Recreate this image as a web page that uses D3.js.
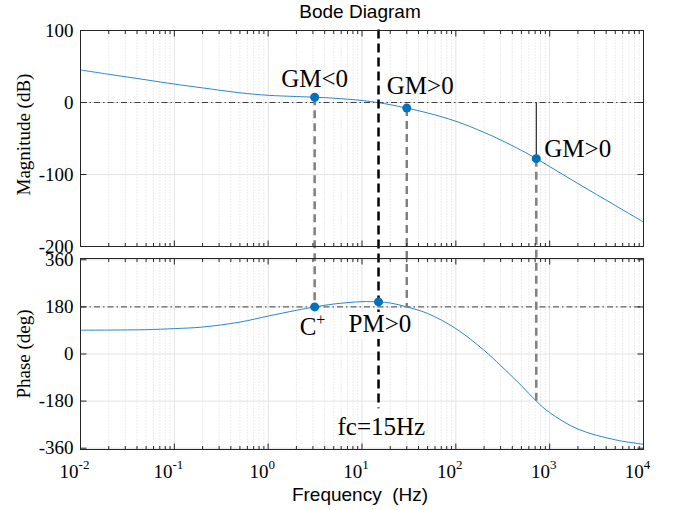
<!DOCTYPE html>
<html>
<head>
<meta charset="utf-8">
<script src="https://d3js.org/d3.v7.min.js"></script>
<style>
  body { margin: 0; background: #fff; }
  .serif { font-family: "Liberation Serif", "Times New Roman", serif; }
  .sans { font-family: "Liberation Sans", Arial, sans-serif; }
</style>
</head>
<body>
<div id="chart"></div>
<script>

// values
const freq     = [0.01, 0.02, 0.05, 0.1, 0.2, 0.5, 1, 2, 3.13, 5, 10, 15, 20, 30, 50, 100, 200, 300, 500, 720, 1000, 2000, 5000, 10000];
const magDb    = [45.2, 39.2, 31.5, 25.6, 20.3, 13.5, 10, 8.3, 7.3, 6.0, 2.8, -0.3, -3, -7.8, -14.5, -26, -41.5, -52, -66.5, -78, -89, -112.5, -143, -166];
const phaseDeg = [91, 91.5, 93, 97, 103, 122, 145, 167, 180, 191, 200, 199, 195, 180, 155, 97, 14, -44, -121, -180, -224, -287, -328, -345];

const magTicks   = [100, 0, -100, -200];
const phaseTicks = [360, 180, 0, -180, -360];
const decades    = [-2, -1, 0, 1, 2, 3, 4];

const fc = 15;
// gain margin points, dropped down to the phase curve
const gmFreq   = [3.13, 30, 720];
const gmMag    = [7.3, -7.8, -78];
const gmPhase  = [180, 180, -180];
const gmLabels = ["GM<0", "GM>0", "GM>0"];
// phase points
const phFreq  = [3.13, 15];
const phValue = [180, 199];

const W = 679, H = 510;
const left = 80.5, right = 643.5;
const magTop = 30.5, magBottom = 246.5;
const phTop = 258.5, phBottom = 449.5;

const x = d3.scaleLog().domain([1e-2, 1e4]).range([left, right]);
const yMag = d3.scaleLinear().domain([-200, 100]).range([magBottom, magTop]);
const yPh = d3.scaleLinear().domain([-365, 365]).range([phBottom, phTop]);

const svg = d3.select("#chart").append("svg")
    .attr("width", W)
    .attr("height", H);

const majorF = decades.map(e => Math.pow(10, e));
const minorF = [];
for (let e = -2; e < 4; e++) for (let k = 2; k <= 9; k++) minorF.push(k * Math.pow(10, e));

function drawGrid(y, ticks, top, bottom) {
  const g = svg.append("g");
  g.selectAll("line.minor").data(minorF).join("line")
      .attr("x1", d => x(d)).attr("x2", d => x(d))
      .attr("y1", top).attr("y2", bottom)
      .attr("stroke", "#cfcfcf").attr("stroke-width", 0.8)
      .attr("stroke-dasharray", "1,2");
  g.selectAll("line.vmajor").data(majorF.slice(1, -1)).join("line")
      .attr("x1", d => x(d)).attr("x2", d => x(d))
      .attr("y1", top).attr("y2", bottom)
      .attr("stroke", "#e3e3e3").attr("stroke-width", 1);
  g.selectAll("line.hmajor").data(ticks).join("line")
      .attr("x1", left).attr("x2", right)
      .attr("y1", d => y(d)).attr("y2", d => y(d))
      .attr("stroke", "#e3e3e3").attr("stroke-width", 1);
}

function drawFrame(y, ticks, top, bottom) {
  const g = svg.append("g").attr("stroke", "#262626").attr("stroke-width", 1);
  g.append("rect")
      .attr("x", left).attr("y", top)
      .attr("width", right - left).attr("height", bottom - top)
      .attr("fill", "none");
  // x ticks, inside, top and bottom
  [[minorF, 3.5], [majorF, 6]].forEach(([arr, len]) => {
    g.append("g").selectAll("line").data(arr).join("line")
        .attr("x1", d => x(d)).attr("x2", d => x(d))
        .attr("y1", bottom).attr("y2", bottom - len);
    g.append("g").selectAll("line").data(arr).join("line")
        .attr("x1", d => x(d)).attr("x2", d => x(d))
        .attr("y1", top).attr("y2", top + len);
  });
  g.append("g").selectAll("line").data(ticks).join("line")
      .attr("x1", left).attr("x2", left + 6)
      .attr("y1", d => y(d)).attr("y2", d => y(d));
  g.append("g").selectAll("line").data(ticks).join("line")
      .attr("x1", right).attr("x2", right - 6)
      .attr("y1", d => y(d)).attr("y2", d => y(d));
  // y tick labels
  svg.append("g").selectAll("text").data(ticks).join("text")
      .attr("class", "serif")
      .attr("x", left - 7)
      .attr("y", d => y(d))
      .attr("dy", "0.33em")
      .attr("text-anchor", "end")
      .attr("font-size", 19)
      .attr("fill", "#000")
      .text(d => d);
}

drawGrid(yMag, magTicks, magTop, magBottom);
drawGrid(yPh, phaseTicks, phTop, phBottom);

// reference lines: 0 dB and 180 deg
svg.append("line")
    .attr("x1", left).attr("x2", right)
    .attr("y1", yMag(0)).attr("y2", yMag(0))
    .attr("stroke", "#404040").attr("stroke-width", 1)
    .attr("stroke-dasharray", "6,3,1.5,3");
svg.append("line")
    .attr("x1", left).attr("x2", right)
    .attr("y1", yPh(180)).attr("y2", yPh(180))
    .attr("stroke", "#404040").attr("stroke-width", 1)
    .attr("stroke-dasharray", "6,3,1.5,3");

// response curves
const magLine = d3.line()
    .x((d, i) => x(freq[i]))
    .y(d => yMag(d))
    .curve(d3.curveCatmullRom.alpha(0.5));
const phLine = d3.line()
    .x((d, i) => x(freq[i]))
    .y(d => yPh(d))
    .curve(d3.curveCatmullRom.alpha(0.5));

svg.append("path").attr("d", magLine(magDb))
    .attr("fill", "none").attr("stroke", "#2b86cc").attr("stroke-width", 1);
svg.append("path").attr("d", phLine(phaseDeg))
    .attr("fill", "none").attr("stroke", "#2b86cc").attr("stroke-width", 1);

// thin line from 0 dB down to the last gain margin point
svg.append("line")
    .attr("x1", x(gmFreq[2])).attr("x2", x(gmFreq[2]))
    .attr("y1", yMag(0)).attr("y2", yMag(gmMag[2]))
    .attr("stroke", "#000").attr("stroke-width", 1);

// gray dashed drops from magnitude to phase
svg.append("g").selectAll("line").data(gmFreq).join("line")
    .attr("x1", d => x(d)).attr("x2", d => x(d))
    .attr("y1", (d, i) => yMag(gmMag[i]))
    .attr("y2", (d, i) => yPh(gmPhase[i]))
    .attr("stroke", "#808080").attr("stroke-width", 2.5)
    .attr("stroke-dasharray", "8,5");

// crossover frequency line, stops just above its label
const fcLineEnd = yPh(-207);
svg.append("line")
    .attr("x1", x(fc)).attr("x2", x(fc))
    .attr("y1", magTop - 1).attr("y2", fcLineEnd)
    .attr("stroke", "#000").attr("stroke-width", 2.5)
    .attr("stroke-dasharray", "9,5");

// markers
svg.append("g").selectAll("circle").data(gmFreq).join("circle")
    .attr("cx", d => x(d)).attr("cy", (d, i) => yMag(gmMag[i]))
    .attr("r", 4.5).attr("fill", "#0072BD");
svg.append("g").selectAll("circle").data(phFreq).join("circle")
    .attr("cx", d => x(d)).attr("cy", (d, i) => yPh(phValue[i]))
    .attr("r", 4.5).attr("fill", "#0072BD");

// annotation text
function note(tx, ty, str, anchor, boxed) {
  const t = svg.append("text")
      .attr("class", "serif")
      .attr("x", tx).attr("y", ty)
      .attr("text-anchor", anchor)
      .attr("font-size", 25)
      .attr("fill", "#000")
      .text(str);
  if (boxed) {
    const b = t.node().getBBox();
    svg.insert("rect", () => t.node())
        .attr("x", b.x - 2).attr("y", b.y + 2)
        .attr("width", b.width + 4).attr("height", b.height)
        .attr("fill", "#fff");
  }
  return t;
}

note(x(gmFreq[0]), yMag(gmMag[0]) - 10, gmLabels[0], "middle");
note(x(gmFreq[1]) - 20, yMag(gmMag[1]) - 14, gmLabels[1], "start");
note(x(gmFreq[2]) + 8, yMag(gmMag[2]) - 2, gmLabels[2], "start");

const cp = note(x(phFreq[0]) - 15, yPh(phValue[0]) + 28, "C", "start");
cp.append("tspan").attr("font-size", 16).attr("dy", -10).text("+");

note(x(phFreq[1]) - 30, yPh(phValue[1]) + 30, "PM>0", "start", true);
note(x(fc) - 41, fcLineEnd + 27, "fc=15Hz", "start");

drawFrame(yMag, magTicks, magTop, magBottom);
drawFrame(yPh, phaseTicks, phTop, phBottom);

// x tick labels (bottom panel only)
const xl = svg.append("g").selectAll("text").data(decades).join("text")
    .attr("class", "serif")
    .attr("x", d => x(Math.pow(10, d)) - 6)
    .attr("y", 478)
    .attr("text-anchor", "middle")
    .attr("font-size", 19)
    .attr("fill", "#000")
    .text("10");
xl.append("tspan")
    .attr("dy", -9)
    .attr("font-size", 13)
    .text(d => d);

// titles
svg.append("text").attr("class", "sans")
    .attr("x", 360).attr("y", 18)
    .attr("text-anchor", "middle").attr("font-size", 19)
    .text("Bode Diagram");
svg.append("text").attr("class", "sans")
    .attr("x", (left + right) / 2 - 2).attr("y", 501)
    .attr("text-anchor", "middle").attr("font-size", 19)
    .attr("xml:space", "preserve")
    .style("white-space", "pre")
    .text("Frequency  (Hz)");
svg.append("text").attr("class", "serif")
    .attr("transform", `translate(30,${(magTop + magBottom) / 2 - 4}) rotate(-90)`)
    .attr("text-anchor", "middle").attr("font-size", 19)
    .text("Magnitude (dB)");
svg.append("text").attr("class", "serif")
    .attr("transform", `translate(30,${(phTop + phBottom) / 2}) rotate(-90)`)
    .attr("text-anchor", "middle").attr("font-size", 19)
    .text("Phase (deg)");

</script>
</body>
</html>
